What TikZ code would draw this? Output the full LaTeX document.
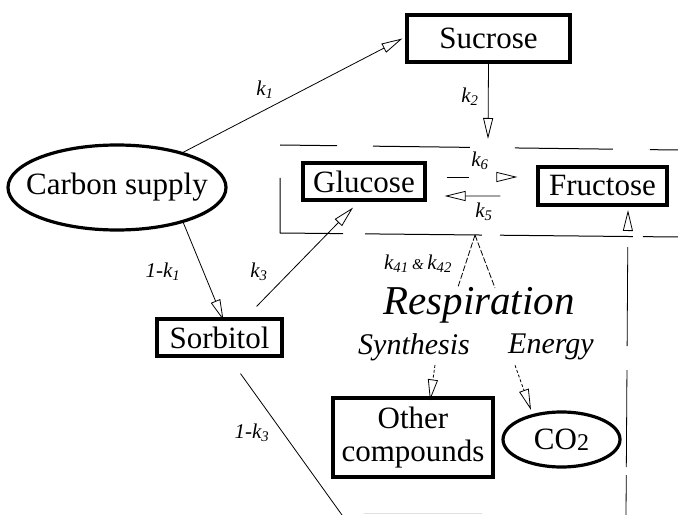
\documentclass[tikz,border=0pt]{standalone}
\usepackage{fontspec}
\setmainfont{Liberation Serif}
\usetikzlibrary{arrows.meta,shapes.geometric}
\newcommand\kk[1]{\textit{k}\textsubscript{\textit{#1}}}
\tikzset{
  box/.style={draw,line width=3.2bp,rectangle,inner sep=0pt,font=\fontsize{31bp}{33bp}\selectfont},
  ell/.style={draw,line width=3.2bp,ellipse,inner sep=0pt,font=\fontsize{31bp}{33bp}\selectfont},
  lbl/.style={inner sep=0pt,font=\fontsize{21bp}{23bp}\selectfont\itshape},
  big/.style={inner sep=0pt,font=\fontsize{41bp}{43bp}\selectfont\itshape},
  mid/.style={inner sep=0pt,font=\fontsize{30bp}{32bp}\selectfont\itshape},
  conn/.style={line width=0.8bp},
  arr/.style={conn,-{Triangle[open,length=21bp,width=10bp,line width=0.8bp]}},
  frame/.style={line width=1bp},
}
\begin{document}
\begin{tikzpicture}[x=1bp,y=-1bp]
\useasboundingbox (0,0) rectangle (678,515);
% nodes
\node[box,minimum width=163bp,minimum height=47bp] (sucrose) at (488.5,38.5) {Sucrose};
\node[ell,minimum width=218bp,minimum height=85bp] (carbon) at (117,187.5) {\makebox[0pt]{Carbon supply}};
\node[box,minimum width=122bp,minimum height=37bp] (glucose) at (364,181.5) {Glucose};
\node[box,minimum width=129bp,minimum height=38bp] (fructose) at (602.5,186) {Fructose};
\node[box,minimum width=125bp,minimum height=37bp] (sorbitol) at (219.5,337.5) {Sorbitol};
\node[box,minimum width=160bp,minimum height=79bp,align=center] (other) at (413,437.5) {Other\\[0bp]compounds};
\node[ell,minimum width=117bp,minimum height=55bp] (co2) at (561.5,439.5) {\makebox[0pt]{CO{\fontsize{24bp}{26bp}\selectfont\raisebox{-1bp}{2}}}};
\node[big] (resp) at (479,305) {Respiration};
\node[mid] (synth) at (414,347) {Synthesis};
\node[mid] (energy) at (551,347) {Energy};
% labels
\node[lbl] (lk1) at (265,90) {\kk{1}};
\node[lbl] (lk2) at (470,97) {\kk{2}};
\node[lbl] (lk6) at (480,161) {\kk{6}};
\node[lbl] (lk5) at (484,212) {\kk{5}};
\node[lbl] (lk3) at (259,272) {\kk{3}};
\node[lbl] (l1k1) at (163,272) {\textit{1-}\kk{1}};
\node[lbl] (lk4) at (418,264) {\kk{41}\,{\fontsize{15bp}{17bp}\selectfont\&}\,\kk{42}};
\node[lbl] (l1k3) at (252,433) {\textit{1-}\kk{3}};
% frame around glucose / fructose
\draw[frame,dash pattern=on 57bp off 36bp on 97bp off 45bp on 98bp off 37bp on 60bp off 10bp] (280,145) -- (678,150);
\draw[frame,dash pattern=on 118bp off 22bp on 117bp off 18bp on 133bp off 10bp on 60bp off 10bp] (280,178) -- (280,233) -- (678,237);
% coordinates
\coordinate (k2end) at (488,139);
\coordinate (rj) at (475,235);
\coordinate (rb) at (626,515);
\coordinate (bot) at (342,515);
% connectors
\draw[arr] (carbon.28) -- ([xshift=-3bp]sucrose.west);
\draw[arr] (sucrose.south) -- (k2end);
\draw[arr] (carbon.-28) -- ([xshift=4bp,yshift=-3bp]sorbitol.north);
\draw[arr] ([shift={(-27,-11)}]sorbitol.north east) -- ([shift={(-11,6)}]glucose.south);
\draw[arr,dash pattern=on 22bp off 30bp on 60bp] ([shift={(20,-4.5)}]glucose.east) -- ([shift={(-19,-9)}]fructose.west);
\draw[arr] ([shift={(-36,10)}]fructose.west) -- ([shift={(18,14.5)}]glucose.east);
\draw[conn,dash pattern=on 6bp off 2bp] (rj) -- (458,287);
\draw[conn,dash pattern=on 6bp off 2bp] (rj) -- (495,288);
\draw[arr,densely dashed] ([shift={(21,4)}]synth.south) -- ([xshift=17bp,yshift=-4bp]other.north);
\draw[arr,densely dashed] ([shift={(-36,5)}]energy.south) -- (531,410);
\draw[conn] ([shift={(21,16)}]sorbitol.south) -- (bot);
\draw[arr,dash pattern=on 40bp off 8bp on 97bp off 24bp on 99bp off 200bp] (rb) -- (628,210);
\draw[line width=1bp,black!12] (364,513) -- (482,513);
\end{tikzpicture}
\end{document}
